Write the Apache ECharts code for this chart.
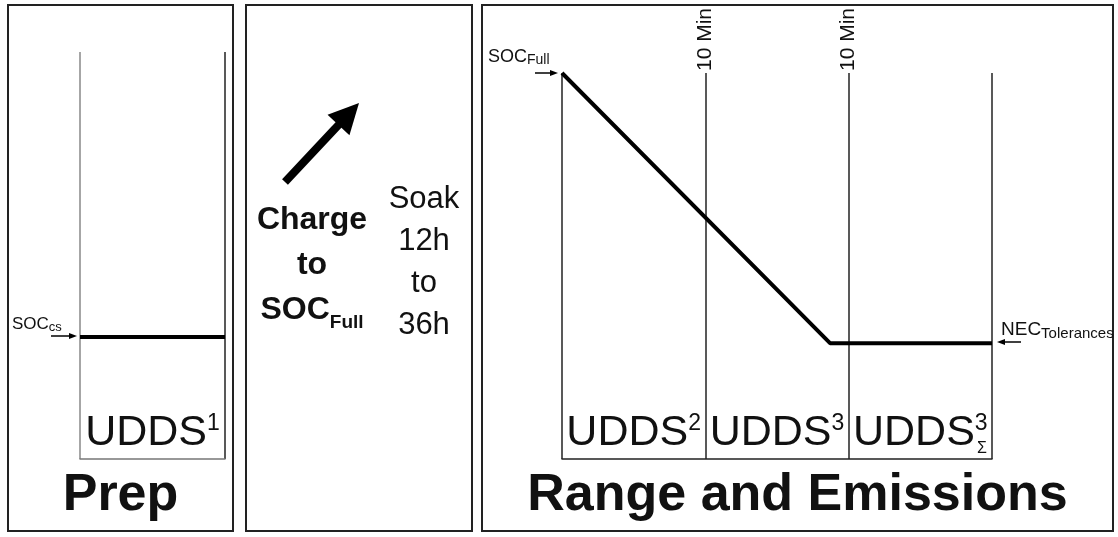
<!DOCTYPE html>
<html>
<head>
<meta charset="utf-8">
<script src="https://cdn.jsdelivr.net/npm/echarts@6/dist/echarts.min.js"></script>
<style>
  html, body { margin: 0; padding: 0; background: #fff; }
  #main { width: 1118px; height: 537px; }
</style>
</head>
<body>
<div id="main"></div>
<script>
// Prep: one UDDS cycle, SOC held at the charge-sustaining level (x in cycles, y in % SOC)
var prepBase = ['UDDS'];
var prepSup = ['1'];
var prepSoc = [[0, 30], [1, 30]];

// Range and Emissions: three UDDS cycles, SOC falls from full to the NEC tolerance level
var rangeBase = ['UDDS', 'UDDS', 'UDDS'];
var rangeSup = ['2', '3', '3'];
var rangeSub = ['', '', 'Σ'];
var rangeSoc = [[0, 100], [1.87, 30], [3, 30]];

// 10 minute soaks between the range cycles
var markerCycles = [1, 2];
var markerLabel = '10 Min';

var font = 'Liberation Sans, Arial, sans-serif';
var ink = '#111';

var chartDom = document.getElementById('main');
var myChart = echarts.init(chartDom);
var option;

var cycleRich = {
  a: { fontSize: 43, lineHeight: 43, color: ink, fontFamily: font },
  s: { fontSize: 23, lineHeight: 15, verticalAlign: 'top', color: ink, fontFamily: font }
};

function arrow(x1, y1, x2, y2, w, hl, hw) {
  var dx = x2 - x1, dy = y2 - y1;
  var len = Math.sqrt(dx * dx + dy * dy);
  var ux = dx / len, uy = dy / len;
  var bx = x2 - ux * hl, by = y2 - uy * hl;
  return {
    type: 'group',
    children: [
      { type: 'line', shape: { x1: x1, y1: y1, x2: bx + ux, y2: by + uy }, style: { stroke: '#000', lineWidth: w } },
      { type: 'polygon', shape: { points: [[x2, y2], [bx - uy * hw, by + ux * hw], [bx + uy * hw, by - ux * hw]] }, style: { fill: '#000' } }
    ]
  };
}

function subLabel(x, y, base, sub, fs, sfs, drop) {
  var lh = fs + 3;
  return {
    type: 'text', x: x, y: y,
    style: {
      text: '{a|' + base + '}{b|' + sub + '}',
      align: 'left', verticalAlign: 'middle',
      rich: {
        a: { fontSize: fs, lineHeight: lh, fontFamily: font, fill: ink, color: ink },
        b: { fontSize: sfs, lineHeight: lh - 2 * drop, verticalAlign: 'bottom', fontFamily: font, fill: ink, color: ink }
      }
    }
  };
}

function panel(x, w) {
  return { type: 'rect', shape: { x: x, y: 5, width: w, height: 526 }, style: { fill: 'none', stroke: '#222', lineWidth: 2 } };
}

option = {
  animation: false,
  grid: [
    { left: 80, top: 52, width: 145, height: 407 },
    { left: 562, top: 73, width: 430, height: 386 }
  ],
  xAxis: [
    {
      gridIndex: 0, type: 'value', min: 0, max: 1, interval: 1,
      axisLine: { show: true, onZero: false, lineStyle: { color: '#777', width: 1.5 } },
      axisTick: { show: false }, axisLabel: { show: false },
      splitLine: { show: true, lineStyle: { color: ['#888', '#222'], width: 1.5 } }
    },
    {
      gridIndex: 0, type: 'category', position: 'bottom',
      data: prepBase.map(function (b, i) { return b + prepSup[i]; }),
      axisLine: { show: false }, axisTick: { show: false }, splitLine: { show: false },
      axisLabel: {
        inside: true, margin: 4, rich: cycleRich,
        formatter: function (v, i) { return '{a|' + prepBase[i] + '}{s|' + prepSup[i] + '}'; }
      }
    },
    {
      gridIndex: 1, type: 'value', min: 0, max: 3, interval: 1,
      axisLine: { show: true, onZero: false, lineStyle: { color: '#222', width: 1.5 } },
      axisTick: { show: false }, axisLabel: { show: false },
      splitLine: { show: true, lineStyle: { color: '#222', width: 1.5 } }
    },
    {
      gridIndex: 1, type: 'category', position: 'bottom',
      data: rangeBase.map(function (b, i) { return b + rangeSup[i] + rangeSub[i]; }),
      axisLine: { show: false }, axisTick: { show: false }, splitLine: { show: false },
      axisLabel: {
        inside: true, margin: 4, rich: cycleRich,
        formatter: function (v, i) { return '{a|' + rangeBase[i] + '}{s|' + rangeSup[i] + '}'; }
      }
    },
    {
      gridIndex: 1, type: 'value', min: 0, max: 3, interval: 1, position: 'top',
      axisLine: { show: false }, axisTick: { show: false }, splitLine: { show: false },
      axisLabel: {
        rotate: -90, margin: 2, fontSize: 21, color: ink, fontFamily: font,
        formatter: function (v) { return markerCycles.indexOf(v) >= 0 ? markerLabel : ''; }
      }
    }
  ],
  yAxis: [
    { gridIndex: 0, type: 'value', min: 0, max: 100, show: false },
    { gridIndex: 1, type: 'value', min: 0, max: 100, show: false }
  ],
  series: [
    {
      type: 'line', xAxisIndex: 0, yAxisIndex: 0, data: prepSoc,
      symbol: 'none', clip: false, lineStyle: { color: '#000', width: 4 }
    },
    {
      type: 'line', xAxisIndex: 2, yAxisIndex: 1, data: rangeSoc,
      symbol: 'none', clip: false, lineStyle: { color: '#000', width: 4 }
    }
  ],
  graphic: [
    panel(8, 225),
    panel(246, 226),
    panel(482, 631),
    arrow(285, 182, 359, 103, 8, 30, 15),
    arrow(51, 336, 77, 336, 1.5, 8, 3),
    arrow(535, 73, 558, 73, 1.5, 8, 3),
    arrow(1021, 342, 997, 342, 1.5, 8, 3),
    subLabel(12, 324, 'SOC', 'cs', 17, 13, 5),
    subLabel(488, 57, 'SOC', 'Full', 18, 14, 5),
    subLabel(1001, 330, 'NEC', 'Tolerances', 19, 15, 5),
    {
      type: 'text', x: 982, y: 449,
      style: { text: rangeSub[2], align: 'center', verticalAlign: 'middle', fontSize: 16, fontFamily: font, fill: ink }
    },
    {
      type: 'text', x: 312, y: 265,
      style: {
        text: '{b|Charge}\n{b|to}\n{b|SOC}{f|Full}',
        align: 'center', verticalAlign: 'middle',
        rich: {
          b: { fontSize: 32, fontWeight: 'bold', lineHeight: 45, fontFamily: font, fill: ink, color: ink },
          f: { fontSize: 19, fontWeight: 'bold', lineHeight: 35, verticalAlign: 'bottom', fontFamily: font, fill: ink, color: ink }
        }
      }
    },
    {
      type: 'text', x: 424, y: 262,
      style: {
        text: 'Soak\n12h\nto\n36h', align: 'center', verticalAlign: 'middle',
        fontSize: 31, lineHeight: 42, fontFamily: font, fill: ink
      }
    },
    {
      type: 'text', x: 120.5, y: 496,
      style: { text: 'Prep', align: 'center', verticalAlign: 'middle', fontSize: 52, fontWeight: 'bold', fontFamily: font, fill: ink }
    },
    {
      type: 'text', x: 797.5, y: 496,
      style: { text: 'Range and Emissions', align: 'center', verticalAlign: 'middle', fontSize: 52, fontWeight: 'bold', fontFamily: font, fill: ink }
    }
  ]
};

option && myChart.setOption(option);
</script>
</body>
</html>
